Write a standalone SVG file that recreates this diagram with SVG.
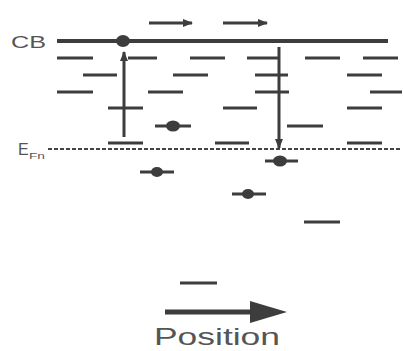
<svg xmlns="http://www.w3.org/2000/svg" width="403" height="351" viewBox="0 0 403 351">
<defs>
<style>
.lv{stroke:#3d3d3d;stroke-width:3;fill:none}
.ar{stroke:#3d3d3d;stroke-width:3;fill:none}
.dot{fill:#3d3d3d}
.lbl{font-family:"Liberation Sans",Arial,sans-serif;fill:#555}
</style>
<marker id="ahs" markerUnits="userSpaceOnUse" markerWidth="10" markerHeight="10" viewBox="0 0 10 10" refX="9" refY="5" orient="auto">
<path d="M0,1 L10,5 L0,9 Z" fill="#3d3d3d"/>
</marker>
</defs>
<rect width="403" height="351" fill="#fff"/>

<g id="cb">
<line x1="57" y1="41" x2="388" y2="41" stroke="#3d3d3d" stroke-width="4"/>
<text class="lbl" x="11" y="48" font-size="16" textLength="35" lengthAdjust="spacingAndGlyphs">CB</text>
</g>

<g id="efn">
<line x1="48" y1="149" x2="400" y2="149" stroke="#444" stroke-width="2" stroke-dasharray="4,2"/>
<text class="lbl" x="18" y="155" font-size="16">E</text>
<text class="lbl" x="29" y="159" font-size="9" textLength="16" lengthAdjust="spacingAndGlyphs">Fn</text>
</g>

<g id="levels">
<line class="lv" x1="57" y1="58" x2="93" y2="58"/>
<line class="lv" x1="128" y1="58" x2="157" y2="58"/>
<line class="lv" x1="190" y1="58" x2="225" y2="58"/>
<line class="lv" x1="247" y1="58" x2="278" y2="58"/>
<line class="lv" x1="305" y1="58" x2="340" y2="58"/>
<line class="lv" x1="363" y1="58" x2="398" y2="58"/>

<line class="lv" x1="83" y1="75" x2="117" y2="75"/>
<line class="lv" x1="173" y1="75" x2="208" y2="75"/>
<line class="lv" x1="255" y1="75" x2="288" y2="75"/>
<line class="lv" x1="347" y1="75" x2="382" y2="75"/>

<line class="lv" x1="57" y1="92" x2="93" y2="92"/>
<line class="lv" x1="148" y1="92" x2="183" y2="92"/>
<line class="lv" x1="255" y1="92" x2="289" y2="92"/>
<line class="lv" x1="370" y1="92" x2="402" y2="92"/>

<line class="lv" x1="108" y1="108" x2="143" y2="108"/>
<line class="lv" x1="223" y1="108" x2="257" y2="108"/>
<line class="lv" x1="347" y1="108" x2="382" y2="108"/>

<line class="lv" x1="155" y1="126" x2="191" y2="126"/>
<line class="lv" x1="287" y1="126" x2="323" y2="126"/>

<line class="lv" x1="108" y1="143" x2="143" y2="143"/>
<line class="lv" x1="215" y1="143" x2="249" y2="143"/>
<line class="lv" x1="347" y1="143" x2="382" y2="143"/>

<line class="lv" x1="265" y1="161" x2="298" y2="161"/>
<line class="lv" x1="140" y1="172" x2="174" y2="172"/>
<line class="lv" x1="232" y1="194" x2="266" y2="194"/>
<line class="lv" x1="304" y1="222" x2="340" y2="222"/>
<line class="lv" x1="180" y1="283" x2="217" y2="283"/>
</g>

<g id="electrons">
<ellipse class="dot" cx="123" cy="41" rx="7" ry="6"/>
<ellipse class="dot" cx="173" cy="126" rx="7" ry="5.5"/>
<ellipse class="dot" cx="280" cy="161" rx="7" ry="5.5"/>
<ellipse class="dot" cx="157" cy="172" rx="6" ry="5"/>
<ellipse class="dot" cx="248" cy="194" rx="6" ry="5"/>
</g>

<g id="connectors">
<line class="ar" x1="124" y1="137" x2="124" y2="52" marker-end="url(#ahs)"/>
<line class="ar" x1="279" y1="47" x2="279" y2="148" marker-end="url(#ahs)"/>
<line class="ar" x1="149" y1="23" x2="192" y2="23" marker-end="url(#ahs)"/>
<line class="ar" x1="223" y1="23" x2="267" y2="23" marker-end="url(#ahs)"/>
<line x1="165" y1="312" x2="254" y2="312" stroke="#3d3d3d" stroke-width="5"/>
<path d="M250,301 L287,312 L250,323 Z" fill="#3d3d3d"/>
</g>

<text class="lbl" x="154" y="345" font-size="24" textLength="126" lengthAdjust="spacingAndGlyphs">Position</text>
</svg>
